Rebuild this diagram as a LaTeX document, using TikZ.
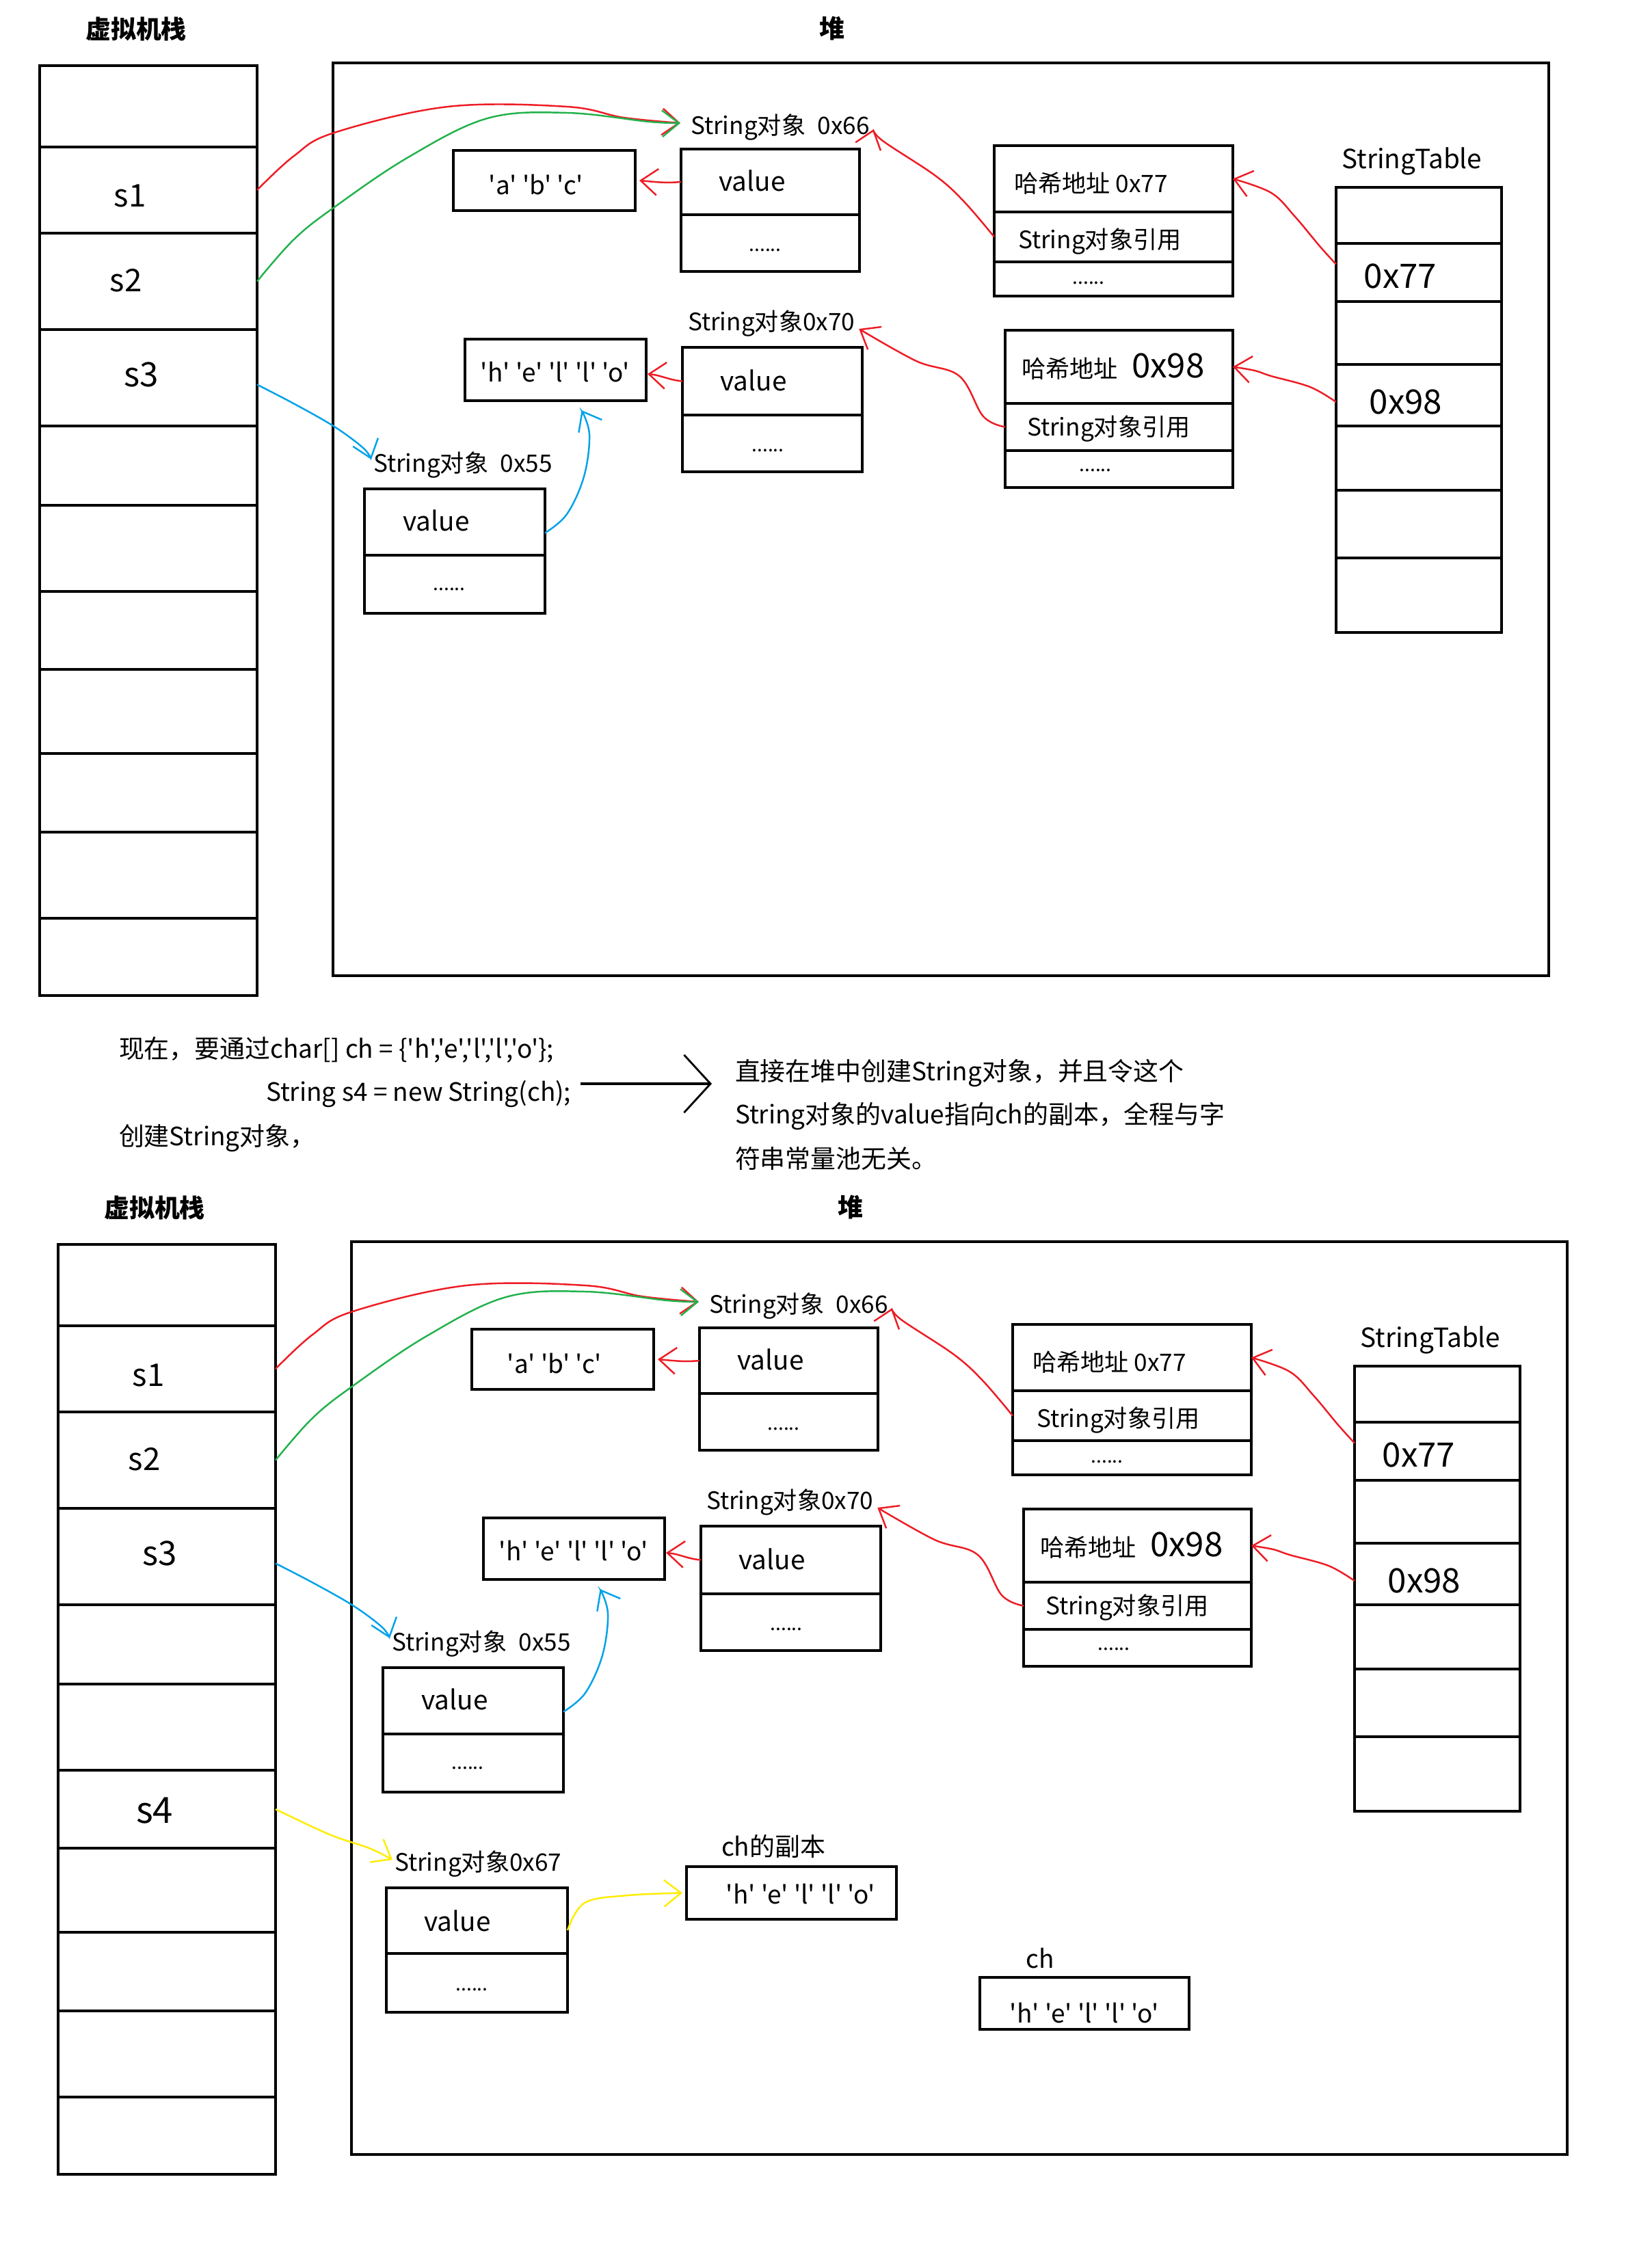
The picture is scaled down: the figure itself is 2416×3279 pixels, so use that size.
\documentclass[tikz,border=0pt]{standalone}
\usepackage{fontspec}
\newfontfamily\cjk{Noto Sans CJK SC}
\usetikzlibrary{arrows.meta}
\definecolor{cred}{RGB}{237,28,36}
\definecolor{cgreen}{RGB}{34,177,76}
\definecolor{cblue}{RGB}{0,162,232}
\definecolor{cyel}{RGB}{255,236,0}
\newcommand\fs[1]{\cjk\fontsize{#1}{#1}\selectfont}
\tikzset{
  box/.style={draw, line width=1.2pt, inner sep=0pt, outer sep=0pt},
  rect/.style n args={4}{box, minimum width={(#3-#1)*0.01cm}, minimum height={(#4-#2)*0.01cm}, at={({(#1+#3)/2},{(#2+#4)/2})}},
  txt/.style={inner sep=0pt, outer sep=0pt, font=\fs{#1}},
  title/.style={inner sep=0pt, font=\fs{10.5}\bfseries},
  dotsty/.style={inner sep=0pt, font=\fs{8}},
  con/.style={line width=0.7pt, -{Straight Barb[length=7pt,width=11pt]}},
}
\newcommand\heapscene[1]{%
  \node[title] (#1ts) at (199,42) {虚拟机栈};
  \node[title] (#1th) at (1217,42) {堆};
  % stack
  \node[rect={58}{96}{376}{215}] (#1c1) {};
  \node[rect={58}{215}{376}{341}] (#1c2) {};
  \node[rect={58}{341}{376}{482}] (#1c3) {};
  \node[rect={58}{482}{376}{623}] (#1c4) {};
  \node[rect={58}{623}{376}{739}] (#1c5) {};
  \node[rect={58}{739}{376}{865}] (#1c6) {};
  \node[rect={58}{865}{376}{979}] (#1c7) {};
  \node[rect={58}{979}{376}{1102}] (#1c8) {};
  \node[rect={58}{1102}{376}{1217}] (#1c9) {};
  \node[rect={58}{1217}{376}{1343}] (#1c10) {};
  \node[rect={58}{1343}{376}{1456}] (#1c11) {};
  \node[txt=13] (#1s1) at (190,287) {s1};
  \node[txt=13] (#1s2) at (184,410) {s2};
  \node[txt=14] (#1s3) at (207,548) {s3};
  % heap
  \node[rect={487}{92}{2265}{1427}] (#1heap) {};
  \node[txt=10, anchor=west] (#1l66) at (1010,186) {String对象\hspace{5pt}0x66};
  \node[rect={663}{220}{929}{308}] (#1abc) {};
  \node[txt=10.5] (#1abct) at (784,270) {'a' 'b' 'c'};
  \node[rect={996}{218}{1257}{314}] (#1v66) {};
  \node[rect={996}{314}{1257}{397}] (#1d66) {};
  \node[txt=11] (#1v66t) at (1100,264) {value};
  \node[dotsty] (#1d66t) at (1119,366) {......};
  \node[txt=10, anchor=west] (#1l70) at (1006,473) {String对象0x70};
  \node[rect={680}{496}{945}{586}] (#1hello) {};
  \node[txt=10.5] (#1hellot) at (812,544) {'h' 'e' 'l' 'l' 'o'};
  \node[rect={998}{508}{1261}{607}] (#1v70) {};
  \node[rect={998}{607}{1261}{690}] (#1d70) {};
  \node[txt=11] (#1v70t) at (1102,556) {value};
  \node[dotsty] (#1d70t) at (1123,659) {......};
  \node[txt=10, anchor=west] (#1l55) at (546,680) {String对象\hspace{5pt}0x55};
  \node[rect={533}{715}{797}{812}] (#1v55) {};
  \node[rect={533}{812}{797}{897}] (#1d55) {};
  \node[txt=11] (#1v55t) at (638,761) {value};
  \node[dotsty] (#1d55t) at (657,862) {......};
  % hash entry 1
  \node[rect={1454}{213}{1803}{310}] (#1h1a) {};
  \node[rect={1454}{310}{1803}{383}] (#1h1b) {};
  \node[rect={1454}{383}{1803}{433}] (#1h1c) {};
  \node[txt=10, anchor=west] (#1h1at) at (1483,268) {哈希地址 0x77};
  \node[txt=10, anchor=west] (#1h1bt) at (1489,353) {String对象引用};
  \node[dotsty] (#1h1ct) at (1592,414) {......};
  % hash entry 2
  \node[rect={1470}{483}{1803}{590}] (#1h2a) {};
  \node[rect={1470}{590}{1803}{659}] (#1h2b) {};
  \node[rect={1470}{659}{1803}{713}] (#1h2c) {};
  \node[txt=10, anchor=base west] (#1h2at) at (1494,552) {哈希地址};
  \node[txt=14, anchor=base west] (#1h2an) at (1655,552) {0x98};
  \node[txt=10, anchor=west] (#1h2bt) at (1502,627) {String对象引用};
  \node[dotsty] (#1h2ct) at (1602,688) {......};
  % string table
  \node[txt=11] (#1stl) at (2065,236) {StringTable};
  \node[rect={1954}{274}{2196}{356}] (#1st1) {};
  \node[rect={1954}{356}{2196}{441}] (#1st2) {};
  \node[rect={1954}{441}{2196}{533}] (#1st3) {};
  \node[rect={1954}{533}{2196}{623}] (#1st4) {};
  \node[rect={1954}{623}{2196}{717}] (#1st5) {};
  \node[rect={1954}{717}{2196}{816}] (#1st6) {};
  \node[rect={1954}{816}{2196}{925}] (#1st7) {};
  \node[txt=14] (#1st2t) at (2048,404) {0x77};
  \node[txt=14] (#1st4t) at (2056,588) {0x98};
  % connectors
  \draw[con, cred] plot[smooth, tension=0.6] coordinates {(#1c2.east) (430,228) (489,194) (655,156) (829,156) (912,172) ([xshift=-0.15cm,yshift=0.06cm]#1l66.west)};
  \draw[con, cgreen] plot[smooth, tension=0.6] coordinates {(#1c3.east) (430,350) (489,303) (597,230) (713,173) (829,165) (949,178) ([xshift=-0.15cm,yshift=0.06cm]#1l66.west)};
  \draw[con, cblue] plot[smooth, tension=0.6] coordinates {([yshift=-0.1cm]#1c4.east) (431,591) (489,624) (531,655) ([xshift=-0.03cm,yshift=0.08cm]#1l55.west)};
  \draw[con, cblue] plot[smooth, tension=0.6] coordinates {([yshift=-0.16cm]#1v55.east) (829,752) (854,697) (862,636) ([xshift=0.38cm,yshift=-0.14cm]#1hello.south)};
  \draw[con, cred] (#1v66.west) to[out=185,in=-5] ([xshift=0.06cm]#1abc.east);
  \draw[con, cred] (#1v70.west) to[out=175,in=-5] ([xshift=0.02cm,yshift=-0.06cm]#1hello.east);
  \draw[con, cred] plot[smooth, tension=0.6] coordinates {(#1h1b.west) (1410,295) (1368,257) (1291,206) ([xshift=0.06cm,yshift=-0.03cm]#1l66.east)};
  \draw[con, cred] plot[smooth, tension=0.6] coordinates {(#1h2b.west) (1438,609) (1403,550) (1340,528) ([xshift=0.06cm,yshift=-0.08cm]#1l70.east)};
  \draw[con, cred] plot[smooth, tension=0.6] coordinates {([yshift=0.12cm]#1st2.west) (1930,360) (1894,317) (1859,282) (#1h1a.east)};
  \draw[con, cred] plot[smooth, tension=0.6] coordinates {([yshift=-0.1cm]#1st4.west) (1916,566) (1859,550) (1835,542) (#1h2a.east)};
}
\begin{document}
\begin{tikzpicture}[x=0.01cm, y=-0.01cm]
\useasboundingbox (0,0) rectangle (2416,3279);
\heapscene{t}
% middle text
\node[txt=10.5, anchor=west] (m1) at (174,1535) {现在，要通过char[] ch = \{'h','e','l','l','o'\};};
\node[txt=10.5, anchor=west] (m2) at (389,1600) {String s4 = new String(ch);};
\node[txt=10.5, anchor=west] (m3) at (174,1665) {创建String对象，};
\node[txt=10.5, anchor=west] (r1) at (1075,1569) {直接在堆中创建String对象，并且令这个};
\node[txt=10.5, anchor=west] (r2) at (1075,1632) {String对象的value指向ch的副本，全程与字};
\node[txt=10.5, anchor=west] (r3) at (1075,1694) {符串常量池无关。};
\coordinate (ma) at (849,1585);
\coordinate (mb) at (1041,1585);
\draw[line width=1.2pt, -{Straight Barb[length=11pt,width=24pt,line width=0.8pt]}] (ma) -- (mb);
% bottom scene
\begin{scope}[shift={(27,1724)}]
\heapscene{b}
\end{scope}
\node[txt=15] (s4) at (226,2648) {s4};
\node[txt=10, anchor=west] (l67) at (577,2726) {String对象0x67};
\node[rect={565}{2761}{830}{2857}] (v67) {};
\node[rect={565}{2857}{830}{2943}] (d67) {};
\node[txt=11] (v67t) at (669,2809) {value};
\node[dotsty] (d67t) at (690,2910) {......};
\node[txt=10.5] (chcl) at (1131,2700) {ch的副本};
\node[rect={1004}{2730}{1311}{2807}] (chcopy) {};
\node[txt=10.5] (chcopyt) at (1171,2770) {'h' 'e' 'l' 'l' 'o'};
\node[txt=10.5] (chl) at (1521,2864) {ch};
\node[rect={1433}{2892}{1739}{2968}] (ch) {};
\node[txt=10.5] (cht) at (1586,2944) {'h' 'e' 'l' 'l' 'o'};
\draw[con, cyel] plot[smooth, tension=0.6] coordinates {(bc7.east) (482,2683) (540,2703) ([xshift=-0.03cm,yshift=0.06cm]l67.west)};
\draw[con, cyel] plot[smooth, tension=0.6] coordinates {([yshift=-0.14cm]v67.east) (855,2783) (918,2772) ([xshift=-0.06cm]chcopy.west)};
\end{tikzpicture}
\end{document}
